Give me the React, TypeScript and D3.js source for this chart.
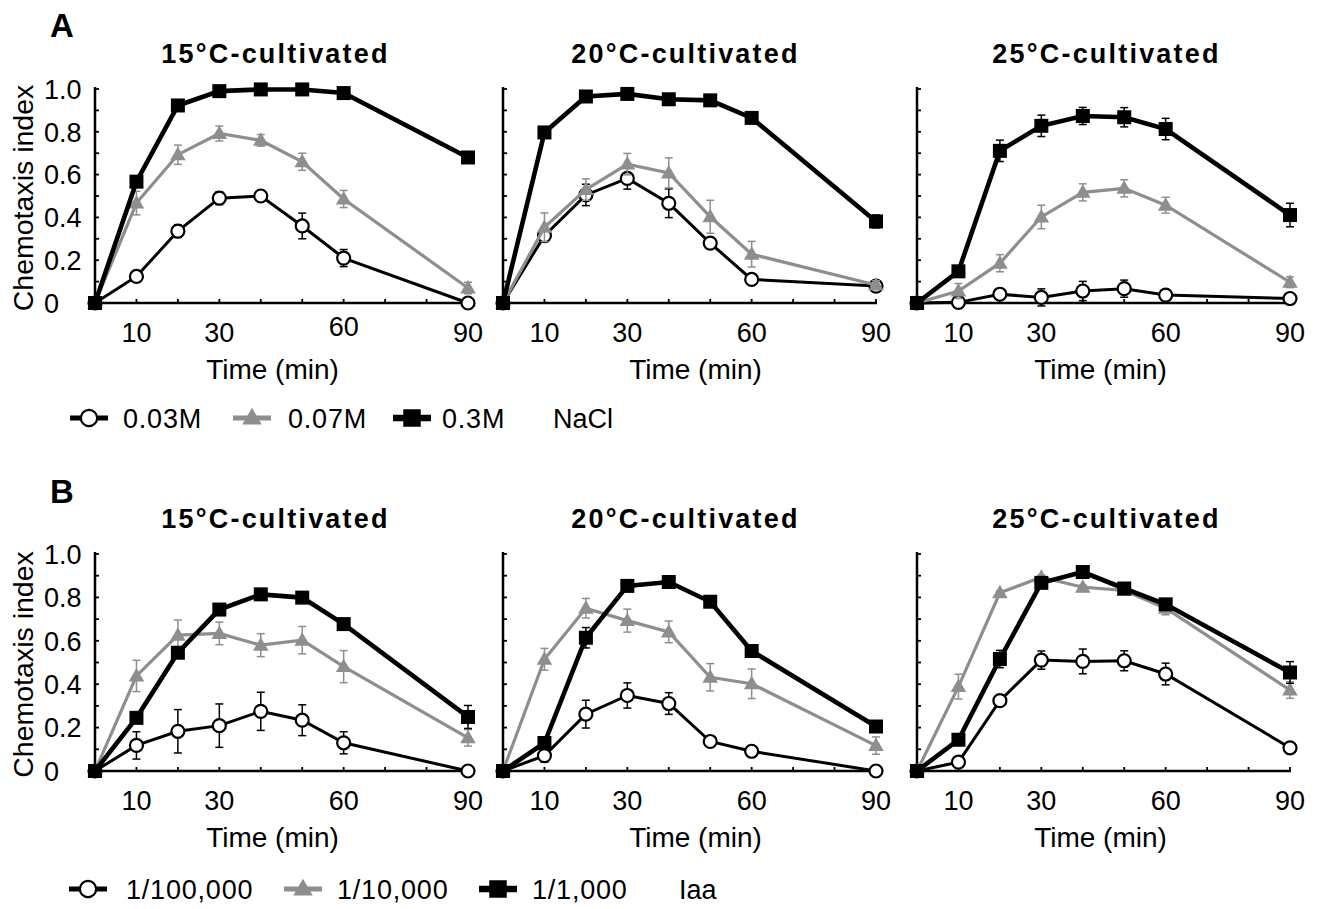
import React from 'react';
import * as d3 from 'd3';

// ---------- data ----------
const TIMES = [0, 10, 20, 30, 40, 50, 60, 90];
const X_TICKS = [10, 20, 30, 40, 50, 60, 70, 80, 90];
const X_LABELS = [10, 30, 60, 90];
const Y_TICKS = [0, 0.1, 0.2, 0.3, 0.4, 0.5, 0.6, 0.7, 0.8, 0.9, 1.0];
const Y_LABELS = ['0', '0.2', '0.4', '0.6', '0.8', '1.0'];
const TEMPS = ['15', '20', '25'];
const NACL_LEGEND = ['0.03M', '0.07M', '0.3M'];
const IAA_LEGEND = ['1/100,000', '1/10,000', '1/1,000'];

// A: NaCl
const A15_LOW = [0, 0.124, 0.336, 0.49, 0.5, 0.36, 0.21, 0.0];
const A15_LOW_ERR = [0, 0.02, 0.03, 0.03, 0.01, 0.06, 0.04, 0];
const A15_MID = [0, 0.467, 0.693, 0.792, 0.76, 0.66, 0.486, 0.07];
const A15_MID_ERR = [0, 0.055, 0.045, 0.035, 0.027, 0.04, 0.04, 0.027];
const A15_HIGH = [0, 0.567, 0.923, 0.99, 0.998, 0.998, 0.981, 0.68];
const A15_HIGH_ERR = [0, 0.02, 0.01, 0.01, 0.01, 0.01, 0.01, 0.01];

const A20_LOW = [0, 0.315, 0.505, 0.582, 0.466, 0.28, 0.11, 0.079];
const A20_LOW_ERR = [0, 0.03, 0.05, 0.05, 0.067, 0.02, 0.01, 0.01];
const A20_MID = [0, 0.354, 0.53, 0.649, 0.608, 0.403, 0.228, 0.084];
const A20_MID_ERR = [0, 0.067, 0.05, 0.05, 0.07, 0.077, 0.06, 0.02];
const A20_HIGH = [0, 0.797, 0.965, 0.977, 0.952, 0.947, 0.865, 0.381];
const A20_HIGH_ERR = [0, 0.01, 0.01, 0.01, 0.01, 0.01, 0.01, 0.03];

const A25_LOW = [0, 0.003, 0.041, 0.026, 0.056, 0.067, 0.037, 0.021];
const A25_LOW_ERR = [0, 0.005, 0.02, 0.04, 0.045, 0.04, 0.01, 0.01];
const A25_MID = [0, 0.056, 0.186, 0.402, 0.517, 0.536, 0.457, 0.097];
const A25_MID_ERR = [0, 0.035, 0.04, 0.055, 0.04, 0.04, 0.037, 0.025];
const A25_HIGH = [0, 0.148, 0.711, 0.828, 0.874, 0.868, 0.813, 0.411];
const A25_HIGH_ERR = [0, 0.02, 0.05, 0.05, 0.04, 0.045, 0.05, 0.055];

// B: Iaa
const B15_LOW = [0, 0.118, 0.183, 0.209, 0.275, 0.234, 0.13, 0.0];
const B15_LOW_ERR = [0, 0.063, 0.1, 0.1, 0.088, 0.071, 0.051, 0.02];
const B15_MID = [0, 0.438, 0.626, 0.634, 0.58, 0.603, 0.481, 0.153];
const B15_MID_ERR = [0, 0.072, 0.07, 0.052, 0.053, 0.063, 0.074, 0.038];
const B15_HIGH = [0, 0.245, 0.545, 0.744, 0.814, 0.799, 0.677, 0.249];
const B15_HIGH_ERR = [0, 0.02, 0.02, 0.01, 0.01, 0.01, 0.01, 0.053];

const B20_LOW = [0, 0.071, 0.262, 0.348, 0.311, 0.136, 0.091, 0.0];
const B20_LOW_ERR = [0, 0.03, 0.064, 0.058, 0.05, 0.02, 0.02, 0];
const B20_MID = [0, 0.515, 0.75, 0.693, 0.641, 0.432, 0.402, 0.117];
const B20_MID_ERR = [0, 0.05, 0.045, 0.053, 0.05, 0.063, 0.068, 0.04];
const B20_HIGH = [0, 0.129, 0.614, 0.853, 0.871, 0.78, 0.553, 0.205];
const B20_HIGH_ERR = [0, 0.02, 0.047, 0.01, 0.01, 0.01, 0.01, 0.01];

const B25_LOW = [0, 0.041, 0.324, 0.511, 0.505, 0.508, 0.447, 0.107];
const B25_LOW_ERR = [0, 0.01, 0.01, 0.042, 0.057, 0.046, 0.05, 0.01];
const B25_MID = [0, 0.389, 0.821, 0.893, 0.847, 0.832, 0.75, 0.373];
const B25_MID_ERR = [0, 0.057, 0.01, 0.01, 0.01, 0.01, 0.03, 0.038];
const B25_HIGH = [0, 0.144, 0.516, 0.867, 0.917, 0.841, 0.768, 0.454];
const B25_HIGH_ERR = [0, 0.01, 0.04, 0.01, 0.01, 0.01, 0.01, 0.05];

const ROW_A = [
  [[A15_LOW, A15_LOW_ERR], [A15_MID, A15_MID_ERR], [A15_HIGH, A15_HIGH_ERR]],
  [[A20_LOW, A20_LOW_ERR], [A20_MID, A20_MID_ERR], [A20_HIGH, A20_HIGH_ERR]],
  [[A25_LOW, A25_LOW_ERR], [A25_MID, A25_MID_ERR], [A25_HIGH, A25_HIGH_ERR]],
];
const ROW_B = [
  [[B15_LOW, B15_LOW_ERR], [B15_MID, B15_MID_ERR], [B15_HIGH, B15_HIGH_ERR]],
  [[B20_LOW, B20_LOW_ERR], [B20_MID, B20_MID_ERR], [B20_HIGH, B20_HIGH_ERR]],
  [[B25_LOW, B25_LOW_ERR], [B25_MID, B25_MID_ERR], [B25_HIGH, B25_HIGH_ERR]],
];

// ---------- style ----------
const FONT = '"Liberation Sans", Arial, Helvetica, sans-serif';
const GRAY = '#8e8e8e';
const PANEL_LEFTS = [95, 503, 917];
const TITLE_SHIFT = [-6, -4, 3];
const XTITLE_SHIFT = [-9, 6, -3];
const PLOT_W = 373;

const triPath = (size: number) => d3.symbol(d3.symbolTriangle, size)();

function Marker({ kind, cx, cy, big }: { kind: number; cx: number; cy: number; big?: boolean }) {
  const s = big ? 1.25 : 1;
  if (kind === 0)
    return <circle cx={cx} cy={cy} r={6.5 * s} fill="#fff" stroke="#000" strokeWidth={2.2} />;
  if (kind === 1)
    return <path d={triPath(105 * s * s) || ''} transform={`translate(${cx},${cy + 1})`} fill={GRAY} />;
  const side = 14 * s;
  return <rect x={cx - side / 2} y={cy - side / 2} width={side} height={side} fill="#000" />;
}

const LINE_STYLE = [
  { stroke: '#000', width: 3 },
  { stroke: GRAY, width: 3.2 },
  { stroke: '#000', width: 4.6 },
];

function Panel({ col, y0, h, series, showY, raise60 }: any) {
  const left = PANEL_LEFTS[col];
  const x = d3.scaleLinear().domain([0, 90]).range([left, left + PLOT_W]);
  const y = d3.scaleLinear().domain([0, 1]).range([y0, y0 - h]);
  const line = d3.line<number>().x((_, i) => x(TIMES[i])).y((d) => y(d));
  const cx = left + PLOT_W / 2;
  return (
    <g>
      {/* title */}
      <text x={cx + TITLE_SHIFT[col]} y={y0 - h - 26} textAnchor="middle" fontFamily={FONT} fontWeight="bold" fontSize={27} letterSpacing={2.2}>
        {TEMPS[col]}°C-cultivated
      </text>
      {/* axes */}
      <line x1={left} x2={left} y1={y(0) + 1} y2={y(1) - 2} stroke="#000" strokeWidth={2.5} />
      <line x1={left - 1} x2={x(90) + 1} y1={y(0)} y2={y(0)} stroke="#000" strokeWidth={2.5} />
      {Y_TICKS.map((t) => (
        <line key={t} x1={left} x2={left + 4} y1={y(t)} y2={y(t)} stroke="#000" strokeWidth={1.8} />
      ))}
      {X_TICKS.map((t) => (
        <line key={t} x1={x(t)} x2={x(t)} y1={y(0)} y2={y(0) - 4} stroke="#000" strokeWidth={1.8} />
      ))}
      {X_LABELS.map((t) => (
        <text key={t} x={x(t)} y={y0 + 39 - (raise60 && t === 60 ? 6 : 0)} textAnchor="middle" fontFamily={FONT} fontSize={27}>
          {t}
        </text>
      ))}
      <text x={cx + XTITLE_SHIFT[col]} y={y0 + 76} textAnchor="middle" fontFamily={FONT} fontSize={28}>
        Time (min)
      </text>
      {showY &&
        Y_LABELS.map((l) => (
          <text key={l} x={44} y={y(+l)} dy="0.36em" fontFamily={FONT} fontSize={27}>
            {l}
          </text>
        ))}
      {showY && (
        <text
          transform={`translate(33,${y(0.5) + 2}) rotate(-90)`}
          textAnchor="middle"
          fontFamily={FONT}
          fontSize={28.5}
        >
          Chemotaxis index
        </text>
      )}
      {/* series */}
      {series.map(([vals, errs]: number[][], si: number) => (
        <g key={si}>
          <path d={line(vals) || ''} fill="none" stroke={LINE_STYLE[si].stroke} strokeWidth={LINE_STYLE[si].width} strokeLinejoin="miter" />
          {vals.map((v, i) =>
            errs[i] > 0 ? (
              <g key={i} stroke={si === 1 ? GRAY : '#000'} strokeWidth={1.5}>
                <line x1={x(TIMES[i])} x2={x(TIMES[i])} y1={y(v - errs[i])} y2={y(v + errs[i])} />
                <line x1={x(TIMES[i]) - 4} x2={x(TIMES[i]) + 4} y1={y(v + errs[i])} y2={y(v + errs[i])} />
                <line x1={x(TIMES[i]) - 4} x2={x(TIMES[i]) + 4} y1={y(v - errs[i])} y2={y(v - errs[i])} />
              </g>
            ) : null
          )}
          {vals.map((v, i) => (
            <Marker key={i} kind={si} cx={x(TIMES[i])} cy={y(v)} />
          ))}
        </g>
      ))}
    </g>
  );
}

function Legend({ cy, syms, texts, labels, unit, unitX }: any) {
  return (
    <g>
      {labels.map((l: string, i: number) => (
        <g key={l}>
          <line x1={syms[i] - 19} x2={syms[i] + 19} y1={cy} y2={cy} stroke={i === 1 ? GRAY : '#000'} strokeWidth={i === 2 ? 6.5 : 5} />
          <Marker kind={i} cx={syms[i]} cy={cy} big />
          <text x={texts[i]} y={cy} dy="0.36em" fontFamily={FONT} fontSize={27} letterSpacing={0.8}>
            {l}
          </text>
        </g>
      ))}
      <text x={unitX} y={cy} dy="0.36em" fontFamily={FONT} fontSize={27}>
        {unit}
      </text>
    </g>
  );
}

export default function App() {
  return (
    <svg width={1317} height={909} style={{ position: 'absolute', left: 0, top: 0, background: '#fff' }}>
      <rect width={1317} height={909} fill="#fff" />
      <text x={50} y={37} fontFamily={FONT} fontWeight="bold" fontSize={33}>A</text>
      <text x={50} y={503} fontFamily={FONT} fontWeight="bold" fontSize={33}>B</text>
      {ROW_A.map((s, c) => (
        <Panel key={'a' + c} col={c} y0={303} h={214} series={s} showY={c === 0} raise60={c === 0} />
      ))}
      {ROW_B.map((s, c) => (
        <Panel key={'b' + c} col={c} y0={771} h={217} series={s} showY={c === 0} />
      ))}
      <Legend cy={418} syms={[89, 252, 412]} texts={[123, 288, 442]} labels={NACL_LEGEND} unit="NaCl" unitX={553} />
      <Legend cy={889} syms={[88, 303, 498]} texts={[126, 337, 532]} labels={IAA_LEGEND} unit="Iaa" unitX={679} />
    </svg>
  );
}
